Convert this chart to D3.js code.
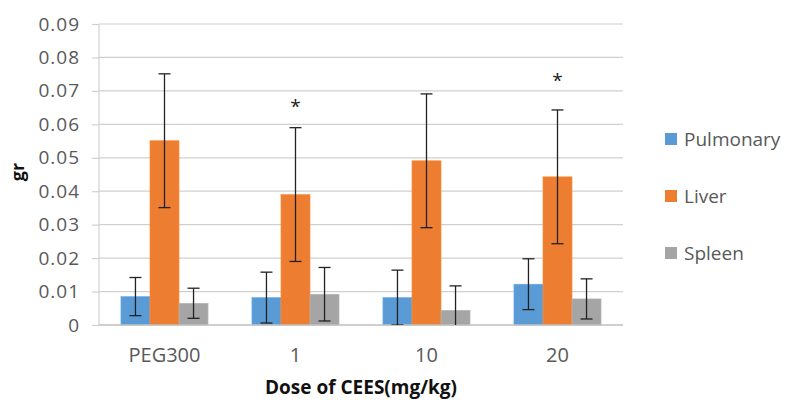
<!DOCTYPE html>
<html><head><meta charset="utf-8">
<script src="https://cdn.jsdelivr.net/npm/d3@7"></script>
<style>body{margin:0;background:#fff}svg{display:block}</style>
</head><body><svg id="c" width="786" height="400"></svg>
<script>
const categories = ["PEG300", "1", "10", "20"];
const seriesNames = ["Pulmonary", "Liver", "Spleen"];
const pulmonary = [0.0085, 0.0082, 0.0082, 0.0122];
const liver = [0.0551, 0.039, 0.0491, 0.0443];
const spleen = [0.0065, 0.0092, 0.0044, 0.0078];
const pulmonaryErr = [0.0057, 0.0076, 0.0082, 0.0076];
const liverErr = [0.020, 0.020, 0.020, 0.020];
const spleenErr = [0.0045, 0.0080, 0.0073, 0.0060];
const significant = ["1", "20"];
const significantLevel = [0.066, 0.074];
const yTicks = [0, 0.01, 0.02, 0.03, 0.04, 0.05, 0.06, 0.07, 0.08, 0.09];
const colors = ["#5b9bd5", "#ed7d31", "#a5a5a5"];

const values = [pulmonary, liver, spleen];
const errs = [pulmonaryErr, liverErr, spleenErr];

const svg = d3.select("#c");
const m = {l: 99, r: 623, t: 24, b: 325};
const x = d3.scaleBand().domain(categories).range([m.l, m.r]).paddingInner(0.335).paddingOuter(0.1675);
const xs = d3.scaleBand().domain(seriesNames).range([0, x.bandwidth()]);
const y = d3.scaleLinear().domain([0, 0.09]).range([m.b, m.t]);
const font = "'Open Sans', 'Liberation Sans', sans-serif";
const textCol = "#595959";

// gridlines
svg.append("g").selectAll("line").data(yTicks.slice(1)).join("line")
  .attr("x1", m.l).attr("x2", m.r).attr("y1", d => y(d)).attr("y2", d => y(d))
  .attr("stroke", "#d0d0d0").attr("stroke-width", 1.2);

// y axis line
svg.append("line").attr("x1", m.l).attr("x2", m.l).attr("y1", m.t).attr("y2", m.b)
  .attr("stroke", "#d0d0d0").attr("stroke-width", 1.2);

// y tick labels
const yAxis = d3.axisLeft(y).tickValues(yTicks).tickFormat(d => d === 0 ? "0" : d3.format(".2f")(d)).tickSize(7).tickPadding(12);
const ya = svg.append("g").attr("transform", `translate(${m.l},0)`).call(yAxis);
ya.select(".domain").remove();
ya.selectAll(".tick line").attr("stroke", "#d0d0d0").attr("stroke-width", 1.2);
ya.selectAll(".tick text").attr("font-family", font).attr("font-size", 19).attr("letter-spacing", 1).attr("fill", textCol);

// bars
svg.append("clipPath").attr("id", "pc").append("rect")
  .attr("x", m.l).attr("y", 0).attr("width", m.r - m.l).attr("height", m.b);
const bars = svg.append("g");
seriesNames.forEach((s, si) => {
  bars.append("g").selectAll("rect").data(categories).join("rect")
    .attr("x", c => x(c) + xs(s))
    .attr("width", xs.bandwidth())
    .attr("y", (c, i) => y(values[si][i]))
    .attr("height", (c, i) => y(0) - y(values[si][i]))
    .attr("fill", colors[si])
    .attr("stroke", d3.color(colors[si]).brighter(0.3)).attr("stroke-width", 0.6);
});

// x axis line
svg.append("line").attr("x1", m.l).attr("x2", m.r).attr("y1", m.b).attr("y2", m.b)
  .attr("stroke", "#bfbfbf").attr("stroke-width", 1.5);

// error bars
const eg = svg.append("g").attr("clip-path", "url(#pc)");
seriesNames.forEach((s, si) => {
  categories.forEach((c, i) => {
    const cx = x(c) + xs(s) + xs.bandwidth() / 2;
    const v = values[si][i], e = errs[si][i];
    const g = eg.append("g").attr("stroke", "#222").attr("stroke-width", 1.3);
    g.append("line").attr("x1", cx).attr("x2", cx).attr("y1", y(v + e)).attr("y2", y(v - e));
    g.append("line").attr("x1", cx - 6).attr("x2", cx + 6).attr("y1", y(v + e)).attr("y2", y(v + e));
    if (v - e >= 0) g.append("line").attr("x1", cx - 6).attr("x2", cx + 6).attr("y1", y(v - e)).attr("y2", y(v - e));
  });
});

// asterisks
svg.append("g").selectAll("text").data(significant).join("text")
  .attr("x", c => x(c) + xs("Liver") + xs.bandwidth() / 2)
  .attr("y", (c, i) => y(significantLevel[i]) + 9)
  .attr("text-anchor", "middle").attr("font-family", font).attr("font-size", 19).attr("fill", "#222")
  .text("*");

// category labels
svg.append("g").selectAll("text").data(categories).join("text")
  .attr("x", c => x(c) + x.bandwidth() / 2).attr("y", 362)
  .attr("text-anchor", "middle").attr("font-family", font).attr("font-size", 20).attr("fill", textCol)
  .text(d => d);

// axis titles
svg.append("text").attr("x", (m.l + m.r) / 2).attr("y", 394).attr("text-anchor", "middle")
  .attr("font-family", font).attr("font-weight", "bold").attr("font-size", 19).attr("fill", "#111")
  .text("Dose of CEES(mg/kg)");
svg.append("text").attr("transform", "translate(24,172) rotate(-90)").attr("text-anchor", "middle")
  .attr("font-family", font).attr("font-weight", "bold").attr("font-size", 18).attr("fill", "#111")
  .text("gr");

// legend
const lg = svg.append("g").selectAll("g").data(seriesNames).join("g")
  .attr("transform", (d, i) => `translate(665,${145 + i * 57})`);
lg.append("rect").attr("x", 0).attr("y", -12).attr("width", 12).attr("height", 12).attr("fill", (d, i) => colors[i]);
lg.append("text").attr("x", 19).attr("y", 1).attr("font-family", font).attr("font-size", 19).attr("fill", textCol).text(d => d);
</script></body></html>
